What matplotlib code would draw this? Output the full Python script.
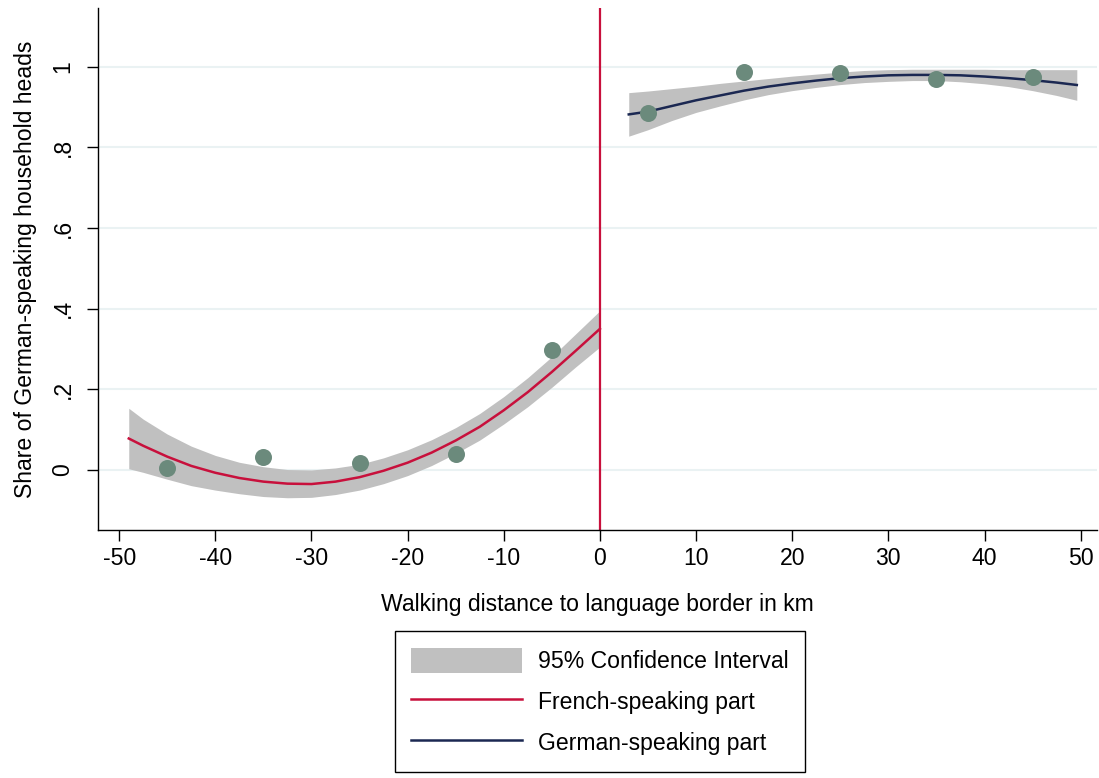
import numpy as np
import matplotlib.pyplot as plt

plt.rcParams['font.family'] = ['Liberation Sans', 'DejaVu Sans']
plt.rcParams['font.size'] = 16.6

# binned means (dots)
bin_x = [-45, -35, -25, -15, -5, 5, 15, 25, 35, 45]
bin_share = [0.006, 0.031, 0.017, 0.039, 0.298, 0.885, 0.987, 0.984, 0.971, 0.974]

# quadratic fit, French-speaking side
fr_x = [-49, -47.5, -45, -42.5, -40, -37.5, -35, -32.5, -30, -27.5, -25,
        -22.5, -20, -17.5, -15, -12.5, -10, -7.5, -5, -2.5, 0]
fr_fit = [0.078, 0.060, 0.033, 0.010, -0.007, -0.020, -0.029, -0.034, -0.035, -0.029, -0.018,
          -0.002, 0.018, 0.043, 0.073, 0.107, 0.148, 0.193, 0.243, 0.296, 0.350]
fr_hi = [0.153, 0.126, 0.089, 0.059, 0.036, 0.019, 0.008, 0.001, 0.000, 0.005, 0.014,
         0.030, 0.050, 0.075, 0.105, 0.140, 0.182, 0.229, 0.281, 0.338, 0.395]
fr_lo = [0.003, -0.006, -0.023, -0.039, -0.050, -0.059, -0.066, -0.069, -0.068, -0.061, -0.050,
         -0.034, -0.014, 0.011, 0.041, 0.074, 0.114, 0.157, 0.205, 0.256, 0.305]

# quadratic fit, German-speaking side
de_x = [3, 5, 7.5, 10, 12.5, 15, 17.5, 20, 22.5, 25, 27.5, 30, 32.5, 35, 37.5,
        40, 42.5, 45, 47.5, 49.6]
de_fit = [0.882, 0.889, 0.903, 0.917, 0.929, 0.941, 0.951, 0.959, 0.966, 0.972, 0.976,
          0.979, 0.980, 0.980, 0.979, 0.976, 0.972, 0.967, 0.961, 0.955]
de_hi = [0.936, 0.940, 0.946, 0.952, 0.959, 0.965, 0.971, 0.977, 0.982, 0.987, 0.991,
         0.993, 0.994, 0.994, 0.994, 0.994, 0.993, 0.993, 0.993, 0.993]
de_lo = [0.828, 0.844, 0.867, 0.887, 0.903, 0.918, 0.931, 0.941, 0.949, 0.956, 0.961,
         0.964, 0.966, 0.966, 0.963, 0.958, 0.951, 0.941, 0.929, 0.917]

y_ticks = [0, 0.2, 0.4, 0.6, 0.8, 1]
y_labels = ['0', '.2', '.4', '.6', '.8', '1']
x_ticks = [-50, -40, -30, -20, -10, 0, 10, 20, 30, 40, 50]

red = '#c8103c'
navy = '#1b2852'
band = '#c0c0c0'
dot = '#6b8a7c'

fig = plt.figure(figsize=(10.99, 7.78), dpi=100)
ax = fig.add_axes([98 / 1099, 248 / 778, 999 / 1099, 522 / 778])

for yt in y_ticks:
    ax.axhline(yt, color='#eaf2f3', lw=1.5, zorder=0)

ax.fill_between(fr_x, fr_lo, fr_hi, color=band, lw=0, zorder=1, label='95% Confidence Interval')
ax.fill_between(de_x, de_lo, de_hi, color=band, lw=0, zorder=1)
ax.plot(fr_x, fr_fit, color=red, lw=1.8, zorder=2, label='French-speaking part')
ax.plot(de_x, de_fit, color=navy, lw=1.8, zorder=2, label='German-speaking part')
ax.scatter(bin_x, bin_share, s=150, color=dot, lw=0, zorder=3)
ax.axvline(0, color=red, lw=1.6, zorder=2)

ax.set_xlim(-52.2, 51.7)
ax.set_ylim(-0.149, 1.146)
ax.set_xticks(x_ticks)
ax.set_xticklabels([str(v) for v in x_ticks])
ax.set_yticks(y_ticks)
ax.set_yticklabels(y_labels, rotation=90, va='center')
ax.spines['top'].set_visible(False)
ax.spines['right'].set_visible(False)
ax.spines['left'].set_linewidth(1.0)
ax.spines['bottom'].set_linewidth(1.0)
ax.tick_params(axis='both', length=8, width=1.0, pad=4)
ax.tick_params(axis='y', pad=9)

ax.set_xlabel('Walking distance to language border in km', labelpad=17)
ax.set_ylabel('Share of German-speaking household heads', labelpad=10)

leg = fig.legend(loc='upper center', bbox_to_anchor=(600 / 1099, 1 - 631 / 778),
                 frameon=True, fancybox=False, edgecolor='black', framealpha=1,
                 handlelength=4.8, handleheight=1.35, labelspacing=0.65,
                 borderpad=0.72, handletextpad=0.7, borderaxespad=0)
leg.get_frame().set_linewidth(1.0)

fig.savefig('out.png', dpi=100)
